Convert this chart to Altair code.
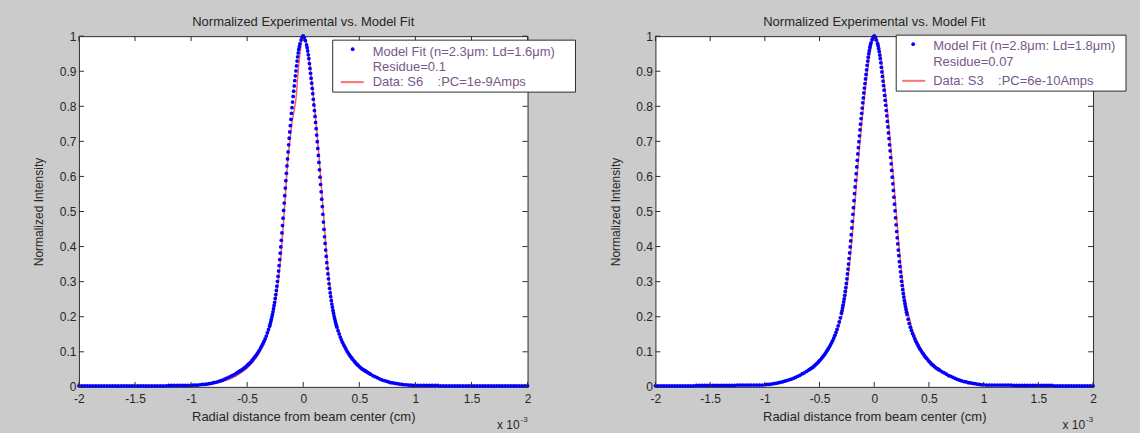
import altair as alt
import pandas as pd

FONT = "Liberation Sans"
TEXT = "#262626"
FRAME = "#2e2e2e"
BG = "#cbcbcb"
BLUE = "#0000ff"
RED = "#ff5c5c"
LEGEND_TEXT = "#76588a"

TITLE = "Normalized Experimental vs. Model Fit"
X_TITLE = "Radial distance from beam center (cm)"
Y_TITLE = "Normalized Intensity"
X_TICKS = [-2, -1.5, -1, -0.5, 0, 0.5, 1, 1.5, 2]
Y_TICKS = [0, 0.1, 0.2, 0.3, 0.4, 0.5, 0.6, 0.7, 0.8, 0.9, 1]

# radial positions of the model-fit samples, in units of 1e-3 cm
R_GRID = ([0.0, 0.01, 0.02, 0.03]
          + [round(0.035 + 0.005 * i, 3) for i in range(54)]
          + [round(0.31 + 0.01 * i, 3) for i in range(30)]
          + [round(0.62 + 0.02 * i, 3) for i in range(20)]
          + [round(1.025 + 0.025 * i, 3) for i in range(40)])

TAIL_1 = [0.004] * 8 + [0.003] * 32
TAIL_2 = [0.005] * 10 + [0.004] * 15 + [0.003] * 15

# panel 1: model fit (n=2.3um, Ld=1.6um), positive and negative radius
FIT1_POS = ([1.000, 0.996, 0.987, 0.975]
            + [0.967, 0.958, 0.947, 0.936, 0.922, 0.908, 0.894, 0.880, 0.866, 0.851,
               0.836, 0.820, 0.804, 0.788, 0.771, 0.754, 0.736, 0.718, 0.699, 0.680,
               0.660, 0.640, 0.619, 0.598, 0.577, 0.556, 0.535, 0.514, 0.492, 0.470,
               0.449, 0.428, 0.409, 0.390, 0.372, 0.354, 0.338, 0.322, 0.308, 0.294,
               0.281, 0.268, 0.257, 0.246, 0.236, 0.227, 0.218, 0.210, 0.202, 0.195,
               0.188, 0.182, 0.176, 0.170]
            + [0.160, 0.151, 0.142, 0.134, 0.127, 0.120, 0.114, 0.108, 0.102, 0.097,
               0.092, 0.087, 0.083, 0.079, 0.075, 0.071, 0.067, 0.064, 0.061, 0.058,
               0.055, 0.052, 0.050, 0.048, 0.046, 0.044, 0.042, 0.040, 0.038, 0.036]
            + [0.032, 0.029, 0.026, 0.023, 0.020, 0.018, 0.016, 0.014, 0.012, 0.011,
               0.010, 0.009, 0.008, 0.007, 0.006, 0.006, 0.005, 0.005, 0.004, 0.004]
            + TAIL_1)
FIT1_NEG = ([1.000, 0.997, 0.989, 0.978]
            + [0.970, 0.962, 0.952, 0.941, 0.929, 0.915, 0.901, 0.887, 0.873, 0.858,
               0.843, 0.828, 0.812, 0.796, 0.780, 0.763, 0.745, 0.727, 0.709, 0.690,
               0.670, 0.650, 0.630, 0.609, 0.588, 0.567, 0.545, 0.524, 0.503, 0.481,
               0.460, 0.439, 0.418, 0.399, 0.381, 0.363, 0.346, 0.330, 0.315, 0.301,
               0.287, 0.275, 0.263, 0.252, 0.241, 0.232, 0.223, 0.214, 0.206, 0.199,
               0.192, 0.185, 0.179, 0.173]
            + [0.163, 0.154, 0.145, 0.137, 0.130, 0.123, 0.117, 0.111, 0.105, 0.100,
               0.095, 0.090, 0.086, 0.082, 0.078, 0.074, 0.070, 0.067, 0.064, 0.061,
               0.058, 0.055, 0.053, 0.050, 0.048, 0.046, 0.044, 0.042, 0.040, 0.038]
            + [0.034, 0.031, 0.028, 0.025, 0.022, 0.019, 0.017, 0.015, 0.013, 0.012,
               0.010, 0.009, 0.008, 0.007, 0.007, 0.006, 0.005, 0.005, 0.005, 0.004]
            + TAIL_1)

# panel 1: measured profile S6
RED1_X = [-2.0, -1.9, -1.8, -1.7, -1.6, -1.5, -1.4, -1.3, -1.2, -1.1,
          -1.0, -0.95, -0.9, -0.85, -0.8, -0.75, -0.7, -0.65, -0.6, -0.55,
          -0.5, -0.45, -0.4, -0.35, -0.3, -0.28, -0.26, -0.24, -0.22, -0.2,
          -0.18, -0.16, -0.14, -0.12, -0.1, -0.08, -0.065, -0.055, -0.045, -0.03,
          -0.015, 0.0, 0.02, 0.04, 0.06, 0.08, 0.1, 0.12, 0.14, 0.16,
          0.18, 0.2, 0.22, 0.24, 0.26, 0.28, 0.3, 0.35, 0.4, 0.45,
          0.5, 0.55, 0.6, 0.65, 0.7, 0.75, 0.8, 0.85, 0.9, 0.95,
          1.0, 1.1, 1.2, 1.3, 1.4, 1.5, 1.6, 1.7, 1.8, 1.9, 2.0]
RED1_Y = [0.002, 0.002, 0.002, 0.002, 0.003, 0.003, 0.003, 0.003, 0.003, 0.004,
          0.004, 0.004, 0.005, 0.006, 0.009, 0.012, 0.017, 0.023, 0.031, 0.041,
          0.053, 0.070, 0.092, 0.122, 0.165, 0.190, 0.220, 0.258, 0.305, 0.370,
          0.448, 0.540, 0.640, 0.700, 0.755, 0.790, 0.820, 0.860, 0.900, 0.950,
          0.985, 1.000, 0.990, 0.962, 0.915, 0.860, 0.800, 0.732, 0.660, 0.580,
          0.495, 0.410, 0.338, 0.281, 0.236, 0.202, 0.176, 0.131, 0.100, 0.078,
          0.060, 0.048, 0.038, 0.029, 0.022, 0.016, 0.012, 0.009, 0.007, 0.005,
          0.004, 0.004, 0.003, 0.003, 0.003, 0.003, 0.002, 0.002, 0.002, 0.002, 0.002]

# panel 2: model fit (n=2.8um, Ld=1.8um)
FIT2_POS = ([1.000, 0.997, 0.989, 0.979]
            + [0.973, 0.965, 0.956, 0.946, 0.936, 0.924, 0.911, 0.898, 0.885, 0.872,
               0.859, 0.846, 0.831, 0.817, 0.803, 0.788, 0.773, 0.757, 0.741, 0.724,
               0.708, 0.690, 0.673, 0.654, 0.636, 0.617, 0.598, 0.579, 0.560, 0.541,
               0.521, 0.502, 0.482, 0.462, 0.443, 0.425, 0.408, 0.390, 0.374, 0.357,
               0.343, 0.328, 0.314, 0.301, 0.289, 0.277, 0.266, 0.256, 0.246, 0.237,
               0.229, 0.221, 0.213, 0.206]
            + [0.193, 0.181, 0.170, 0.161, 0.152, 0.145, 0.137, 0.130, 0.124, 0.118,
               0.112, 0.107, 0.102, 0.097, 0.093, 0.088, 0.084, 0.081, 0.077, 0.073,
               0.070, 0.066, 0.063, 0.061, 0.058, 0.055, 0.053, 0.051, 0.049, 0.047]
            + [0.043, 0.040, 0.036, 0.032, 0.030, 0.027, 0.024, 0.021, 0.019, 0.017,
               0.015, 0.014, 0.012, 0.011, 0.010, 0.009, 0.008, 0.007, 0.006, 0.006]
            + TAIL_2)
FIT2_NEG = ([1.000, 0.997, 0.990, 0.981]
            + [0.975, 0.968, 0.959, 0.950, 0.940, 0.929, 0.917, 0.904, 0.891, 0.878,
               0.865, 0.852, 0.838, 0.824, 0.810, 0.795, 0.780, 0.765, 0.749, 0.733,
               0.716, 0.699, 0.682, 0.664, 0.646, 0.627, 0.608, 0.589, 0.570, 0.551,
               0.531, 0.511, 0.492, 0.472, 0.453, 0.434, 0.416, 0.399, 0.382, 0.366,
               0.350, 0.336, 0.322, 0.308, 0.295, 0.283, 0.272, 0.261, 0.251, 0.242,
               0.233, 0.225, 0.217, 0.210]
            + [0.197, 0.185, 0.174, 0.164, 0.155, 0.147, 0.139, 0.132, 0.126, 0.120,
               0.114, 0.109, 0.104, 0.099, 0.094, 0.090, 0.086, 0.082, 0.078, 0.075,
               0.071, 0.068, 0.065, 0.062, 0.059, 0.056, 0.054, 0.052, 0.050, 0.048]
            + [0.044, 0.040, 0.037, 0.033, 0.030, 0.027, 0.024, 0.022, 0.020, 0.018,
               0.016, 0.014, 0.013, 0.011, 0.010, 0.009, 0.008, 0.007, 0.007, 0.006]
            + TAIL_2)

# panel 2: measured profile S3
RED2_X = [-2.0, -1.9, -1.8, -1.7, -1.6, -1.5, -1.4, -1.3, -1.2, -1.1,
          -1.0, -0.95, -0.9, -0.85, -0.8, -0.75, -0.7, -0.65, -0.6, -0.55,
          -0.5, -0.45, -0.4, -0.35, -0.3, -0.28, -0.26, -0.24, -0.22, -0.2,
          -0.18, -0.16, -0.14, -0.12, -0.1, -0.08, -0.06, -0.04, -0.02, 0.0,
          0.02, 0.04, 0.06, 0.08, 0.1, 0.12, 0.14, 0.16, 0.18, 0.2,
          0.22, 0.24, 0.26, 0.28, 0.3, 0.35, 0.4, 0.45, 0.5, 0.55,
          0.6, 0.65, 0.7, 0.75, 0.8, 0.85, 0.9, 0.95, 1.0, 1.1,
          1.2, 1.3, 1.4, 1.5, 1.6, 1.7, 1.8, 1.9, 2.0]
RED2_Y = [0.003, 0.003, 0.003, 0.003, 0.003, 0.004, 0.004, 0.004, 0.004, 0.005,
          0.006, 0.008, 0.010, 0.013, 0.017, 0.022, 0.029, 0.037, 0.046, 0.056,
          0.071, 0.090, 0.114, 0.147, 0.197, 0.225, 0.261, 0.308, 0.366, 0.434,
          0.511, 0.589, 0.664, 0.733, 0.795, 0.852, 0.904, 0.950, 0.981, 0.998,
          0.995, 0.979, 0.946, 0.898, 0.846, 0.788, 0.724, 0.654, 0.579, 0.502,
          0.425, 0.357, 0.301, 0.256, 0.221, 0.161, 0.124, 0.097, 0.077, 0.061,
          0.049, 0.040, 0.031, 0.024, 0.018, 0.014, 0.011, 0.008, 0.006, 0.005,
          0.004, 0.004, 0.003, 0.003, 0.003, 0.003, 0.003, 0.003, 0.003]

LEGEND_1 = ["Model Fit (n=2.3\u03bcm: Ld=1.6\u03bcm)", "Residue=0.1",
            "Data: S6\u00a0\u00a0\u00a0\u00a0:PC=1e-9Amps"]
LEGEND_2 = ["Model Fit (n=2.8\u03bcm: Ld=1.8\u03bcm)", "Residue=0.07",
            "Data: S3\u00a0\u00a0\u00a0\u00a0:PC=6e-10Amps"]

PLOT_H = 351


def panel(fit_pos, fit_neg, red_x, red_y, labels, width, lg):
    fit = pd.DataFrame({"x": R_GRID + [-r for r in R_GRID], "y": fit_pos + fit_neg})
    meas = pd.DataFrame({"x": red_x, "y": red_y})
    xs = alt.Scale(domain=[-2, 2], nice=False, zero=False)
    ys = alt.Scale(domain=[0, 1], nice=False, zero=False)
    x_enc = alt.X("x:Q", scale=xs, axis=alt.Axis(
        values=X_TICKS, labelExpr="'' + datum.value", title=X_TITLE,
        labelPadding=7, labelFlush=False, labelOverlap=False, titleFontSize=13,
        titleY=30, titleBaseline="middle"))
    y_enc = alt.Y("y:Q", scale=ys, axis=alt.Axis(
        values=Y_TICKS, tickCount=11, labelExpr="'' + datum.value", title=Y_TITLE,
        labelPadding=3, labelOverlap=False, titleFontSize=12, titleX=-40,
        titleBaseline="middle"))

    line = alt.Chart(meas).mark_line(color=RED, strokeWidth=1.5).encode(x=x_enc, y=y_enc)
    dots = alt.Chart(fit).mark_circle(size=14, color=BLUE, opacity=1).encode(x=x_enc, y=y_enc)

    # inward tick marks on all four sides of the box
    bot = pd.DataFrame({"x": X_TICKS, "y": [0.0] * 9, "y2": [0.014] * 9})
    top = pd.DataFrame({"x": X_TICKS, "y": [1.0] * 9, "y2": [0.986] * 9})
    lft = pd.DataFrame({"y": Y_TICKS, "x": [-2.0] * 11, "x2": [-1.955] * 11})
    rgt = pd.DataFrame({"y": Y_TICKS, "x": [2.0] * 11, "x2": [1.955] * 11})
    tk = dict(color=FRAME, strokeWidth=1)
    t_bot = alt.Chart(bot).mark_rule(**tk).encode(x=x_enc, y=y_enc, y2="y2:Q")
    t_top = alt.Chart(top).mark_rule(**tk).encode(x=x_enc, y=y_enc, y2="y2:Q")
    t_lft = alt.Chart(lft).mark_rule(**tk).encode(x=x_enc, x2="x2:Q", y=y_enc)
    t_rgt = alt.Chart(rgt).mark_rule(**tk).encode(x=x_enc, x2="x2:Q", y=y_enc)

    one = pd.DataFrame({"k": [0]})
    box = alt.Chart(one).mark_rect(fill="white", stroke=FRAME, strokeWidth=1).encode(
        x=alt.value(lg["box"][0]), x2=alt.value(lg["box"][1]),
        y=alt.value(lg["box"][2]), y2=alt.value(lg["box"][3]))
    dot = alt.Chart(one).mark_circle(size=14, color=BLUE, opacity=1).encode(
        x=alt.value(lg["dot"][0]), y=alt.value(lg["dot"][1]))
    swatch = alt.Chart(one).mark_rule(color="#ff7070", strokeWidth=2).encode(
        x=alt.value(lg["rule"][0]), x2=alt.value(lg["rule"][1]), y=alt.value(lg["rule"][2]))
    texts = [
        alt.Chart(one).mark_text(align="left", baseline="middle", font=FONT,
                                 fontSize=13, color=LEGEND_TEXT).encode(
            x=alt.value(lg["tx"]), y=alt.value(ty), text=alt.value(s))
        for s, ty in zip(labels, lg["ty"])
    ]
    mult = alt.Chart(one).mark_text(align="right", baseline="middle", font=FONT,
                                    fontSize=12, color=TEXT).encode(
        x=alt.value(width - 8), y=alt.value(PLOT_H + 38), text=alt.value("x 10"))
    expo = alt.Chart(one).mark_text(align="left", baseline="middle", font=FONT,
                                    fontSize=8, color=TEXT).encode(
        x=alt.value(width - 7), y=alt.value(PLOT_H + 33), text=alt.value("-3"))

    return alt.layer(line, dots, t_bot, t_top, t_lft, t_rgt, box, dot, swatch,
                     *texts, mult, expo).properties(
        width=width, height=PLOT_H,
        title=alt.TitleParams(TITLE, font=FONT, fontSize=13, fontWeight="normal",
                              color=TEXT, offset=1, anchor="middle"))


left = panel(FIT1_POS, FIT1_NEG, RED1_X, RED1_Y, LEGEND_1, 449,
             {"box": (254, 497, 4, 56), "dot": (274, 13), "rule": (262, 285, 46),
              "tx": 294, "ty": (15.7, 30.7, 45.7)})
right = panel(FIT2_POS, FIT2_NEG, RED2_X, RED2_Y, LEGEND_2, 438,
              {"box": (241, 471, -1, 55), "dot": (258, 8), "rule": (247, 270, 44.7),
               "tx": 278, "ty": (10, 25.7, 44.7)})

chart = alt.hconcat(left, right, spacing=128, bounds="flush").properties(
    background=BG,
    padding={"left": 32, "top": 15, "right": 13, "bottom": 3},
).configure_view(
    fill="white", stroke=FRAME, strokeWidth=1
).configure_axis(
    domain=False, ticks=False, tickSize=0, grid=False,
    labelFont=FONT, labelFontSize=12, labelColor=TEXT,
    titleFont=FONT, titleFontWeight="normal", titleColor=TEXT,
)

chart.save("out.html", embed_options={"renderer": "svg", "actions": False})
